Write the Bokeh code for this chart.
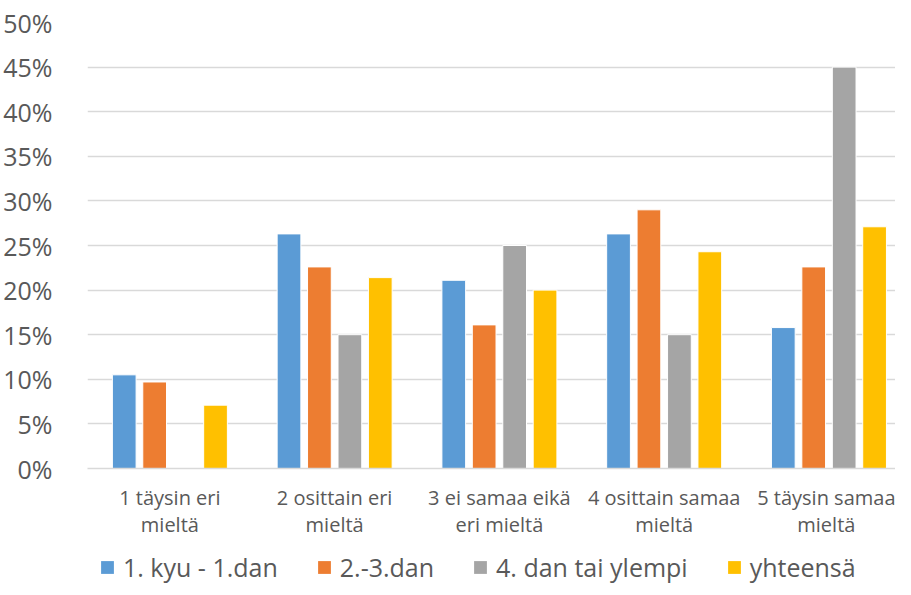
from bokeh.plotting import figure
from bokeh.layouts import column
from bokeh.models import ColumnDataSource, Range1d, FixedTicker, PrintfTickFormatter, Legend, LegendItem
from bokeh.transform import dodge
from bokeh.embed import file_html
from bokeh.resources import INLINE

categories = ["1 täysin eri\nmieltä", "2 osittain eri\nmieltä", "3 ei samaa eikä\neri mieltä",
              "4 osittain samaa\nmieltä", "5 täysin samaa\nmieltä"]
series_names = ["1. kyu - 1.dan", "2.-3.dan", "4. dan tai ylempi", "yhteensä"]
kyu_1dan = [10.5, 26.3, 21.1, 26.3, 15.8]
dan_2_3 = [9.7, 22.6, 16.1, 29.0, 22.6]
dan_4_plus = [0.0, 15.0, 25.0, 15.0, 45.0]
total = [7.1, 21.4, 20.0, 24.3, 27.1]
y_ticks = [0, 5, 10, 15, 20, 25, 30, 35, 40, 45, 50]

colors = ["#5b9bd5", "#ed7d31", "#a5a5a5", "#ffc000"]
offsets = [-0.277, -0.0925, 0.0925, 0.277]
FONT = "Open Sans"
TXT = "#595959"

xpos = [i + 0.5 for i in range(len(categories))]
source = ColumnDataSource(dict(x=xpos, s0=kyu_1dan, s1=dan_2_3, s2=dan_4_plus, s3=total))

p = figure(width=895, height=550, x_range=Range1d(0, 4.904), y_range=Range1d(0, 50),
           output_backend="svg", toolbar_location=None,
           min_border_left=78, min_border_right=0, min_border_top=22, min_border_bottom=82)
p.outline_line_color = None
p.background_fill_color = "white"

for i, key in enumerate(["s0", "s1", "s2", "s3"]):
    p.vbar(x=dodge("x", offsets[i]), top=key, width=0.144, source=source,
           fill_color=colors[i], line_color="white", line_width=1)

p.xgrid.grid_line_color = None
p.ygrid.grid_line_color = "#d9d9d9"
p.ygrid.grid_line_width = 1.3
p.yaxis.ticker = FixedTicker(ticks=y_ticks)
p.yaxis.formatter = PrintfTickFormatter(format="%d%%")
p.yaxis.axis_line_color = None
p.yaxis.major_tick_line_color = None
p.yaxis.minor_tick_line_color = None
p.yaxis.major_label_text_font = FONT
p.yaxis.major_label_text_font_size = "25px"
p.yaxis.major_label_text_color = TXT
p.yaxis.major_label_standoff = 29

p.xaxis.ticker = FixedTicker(ticks=xpos)
p.xaxis.major_label_overrides = {x: c for x, c in zip(xpos, categories)}
p.xaxis.axis_line_color = "#d9d9d9"
p.xaxis.axis_line_width = 1.3
p.xaxis.major_tick_line_color = None
p.xaxis.minor_tick_line_color = None
p.xaxis.major_label_text_font = FONT
p.xaxis.major_label_text_font_size = "20px"
p.xaxis.major_label_text_color = TXT
p.xaxis.major_label_text_line_height = 1.0
p.xaxis.major_label_standoff = 9

# legend strip
lg = figure(width=895, height=34, x_range=Range1d(0, 1), y_range=Range1d(0, 1),
            x_axis_type=None, y_axis_type=None,
            output_backend="svg", toolbar_location=None,
            min_border_left=0, min_border_right=0, min_border_top=0, min_border_bottom=0)
lg.grid.visible = False
lg.outline_line_color = None
items = []
for i, name in enumerate(series_names):
    rr = lg.quad(left=[-10], right=[-9], bottom=[-10], top=[-9], fill_color=colors[i], line_color=None)
    items.append(LegendItem(label=name, renderers=[rr]))
legend = Legend(items=items, orientation="horizontal", location=(12, 0),
                label_text_font=FONT, label_text_font_size="25px", label_text_color=TXT,
                glyph_width=16, glyph_height=16, label_standoff=8, spacing=38,
                border_line_color=None, background_fill_alpha=0, padding=0, margin=0)
lg.add_layout(legend)

open("out.html", "w").write(file_html(column(p, lg, spacing=0), INLINE))
